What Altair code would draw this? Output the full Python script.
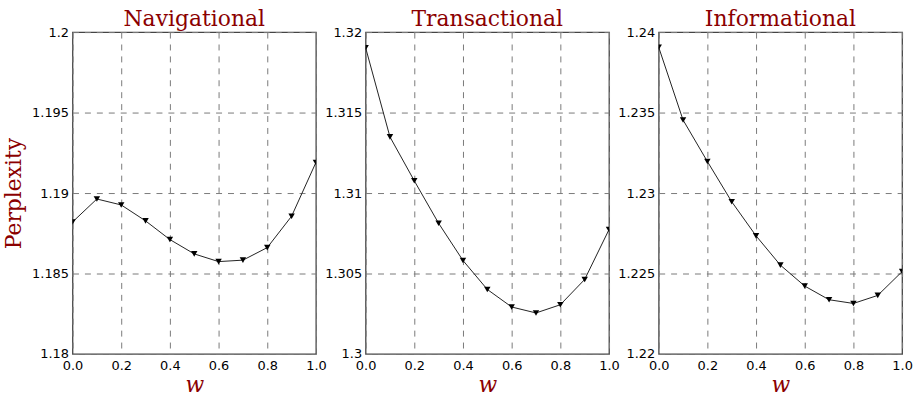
import altair as alt
import pandas as pd

w = [0.0, 0.1, 0.2, 0.3, 0.4, 0.5, 0.6, 0.7, 0.8, 0.9, 1.0]
navigational = [1.1882, 1.18963, 1.18926, 1.18827, 1.18711, 1.18622, 1.18574, 1.18583, 1.18661, 1.18856, 1.19190]
transactional = [1.31903, 1.31349, 1.31076, 1.30812, 1.30581, 1.30401, 1.30292, 1.30255, 1.30306, 1.30463, 1.30773]
informational = [1.23906, 1.23454, 1.23196, 1.22946, 1.22734, 1.22552, 1.22422, 1.22337, 1.22314, 1.22364, 1.22512]

titles = ["Navigational", "Transactional", "Informational"]
series = [navigational, transactional, informational]
y_domains = [[1.18, 1.2], [1.3, 1.32], [1.22, 1.24]]
y_ticks = [
    [1.18, 1.185, 1.19, 1.195, 1.2],
    [1.3, 1.305, 1.31, 1.315, 1.32],
    [1.22, 1.225, 1.23, 1.235, 1.24],
]
x_ticks = [0.0, 0.2, 0.4, 0.6, 0.8, 1.0]

RED = "#8B0000"
GRID = dict(grid=True, gridColor="#7a7a7a", gridDash=[6, 6], gridWidth=1, gridOpacity=1)

panels = []
for i, (t, vals, dom, yt) in enumerate(zip(titles, series, y_domains, y_ticks)):
    df = pd.DataFrame({"w": w, "p": vals})
    x = alt.X(
        "w:Q",
        scale=alt.Scale(domain=[0, 1], nice=False, zero=False),
        axis=alt.Axis(
            values=x_ticks, format=".1f", title="w", titleFont="DejaVu Serif",
            titleFontStyle="italic", titleFontWeight="normal", titleFontSize=22,
            titleColor=RED, titleBaseline="alphabetic", titlePadding=19,
            labelFlush=False, labelOverlap=False, labelPadding=6, **GRID,
        ),
    )
    y = alt.Y(
        "p:Q",
        scale=alt.Scale(domain=dom, nice=False, zero=False),
        axis=alt.Axis(
            values=yt, format=".6~g", title=("Perplexity" if i == 0 else ""),
            titleFont="DejaVu Serif", titleFontWeight="normal", titleFontSize=22,
            titleColor=RED, titlePadding=6, labelFlush=False, labelOverlap=False,
            labelPadding=4, **GRID,
        ),
    )
    base = alt.Chart(df).encode(x=x, y=y)
    line = base.mark_line(color="#222222", strokeWidth=1, clip=True)
    pts = base.mark_point(shape="triangle-down", filled=True, size=42, color="black", opacity=1, clip=True)
    panel = alt.layer(line, pts).properties(
        width=245, height=324,
        title=alt.TitleParams(t, font="DejaVu Serif", fontSize=22, fontWeight="normal", color=RED,
                              offset=-5),
    )
    panels.append(panel)

chart = alt.hconcat(*panels, spacing=50, bounds="flush").properties(
    padding={"left": 2, "top": 6, "right": 5, "bottom": 0}
).configure_axis(
    labelFont="DejaVu Sans", labelFontSize=13, labelColor="black", ticks=False, domain=False,
).configure_view(stroke="#444444", strokeWidth=1.3)

chart.save("out.html", embed_options={"renderer": "svg", "actions": False})
